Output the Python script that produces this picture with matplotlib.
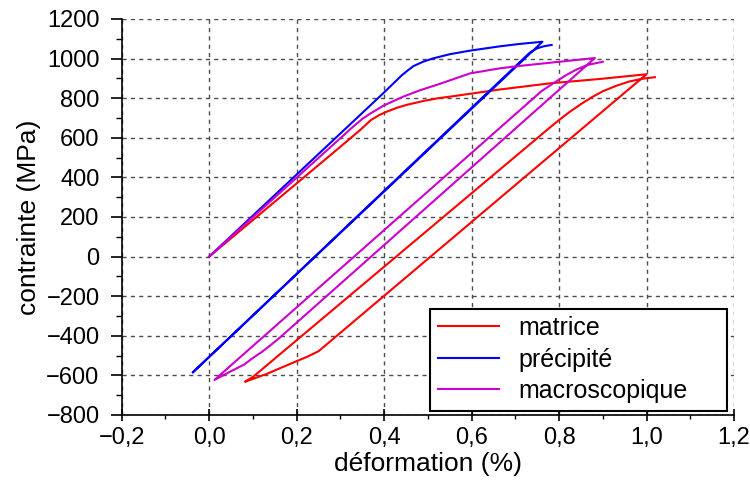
import numpy as np
import matplotlib.pyplot as plt
from matplotlib.ticker import MultipleLocator, FuncFormatter

plt.rcParams['font.family'] = ['Liberation Sans', 'DejaVu Sans']
plt.rcParams['font.size'] = 17

# ================= DATA =================

# matrice : loading -> unloading -> reloading
matrice_strain = [0.0, 0.291, 0.345, 0.37, 0.39, 0.406, 0.43, 0.451, 0.49, 0.524, 0.558,
                  0.665, 0.779, 0.893, 1.0,
                  0.25, 0.225, 0.2, 0.131, 0.082,
                  0.101, 0.772, 0.80, 0.825, 0.85, 0.875, 0.90, 0.93, 0.96, 0.99, 1.019]
matrice_stress = [0, 538, 639, 690, 716, 732, 752, 766, 786, 800, 810,
                  844, 875, 897, 921,
                  -478, -505, -528, -593, -632,
                  -606, 639, 690, 732, 770, 805, 835, 862, 884, 898, 906]

# précipité
precip_strain = [0.0, 0.398, 0.44, 0.455, 0.467, 0.49, 0.512, 0.55, 0.596, 0.665, 0.71, 0.762,
                 -0.038,
                 0.733, 0.75, 0.765, 0.783]
precip_stress = [0, 825, 915, 942, 962, 985, 1001, 1022, 1040, 1062, 1074, 1085,
                 -586,
                 1030, 1052, 1062, 1069]

# macroscopique
macro_strain = [0.0, 0.329, 0.35, 0.368, 0.40, 0.444, 0.482, 0.524, 0.596, 0.665, 0.71, 0.779, 0.882,
                0.16, 0.14, 0.12, 0.10, 0.08, 0.048, 0.012,
                0.76, 0.79, 0.815, 0.84, 0.865, 0.9]
macro_stress = [0, 656, 695, 722, 764, 808, 840, 870, 925, 951, 963, 979, 1003,
                -412, -448, -482, -512, -545, -581, -623,
                836, 880, 915, 945, 968, 984]

labels = ["matrice", "précipité", "macroscopique"]
colors = ["#ff0000", "#0000ff", "#cc00cc"]

# ================= PLOT =================

fig = plt.figure(figsize=(7.5, 4.83), dpi=100)
ax = fig.add_axes([0.1623, 0.1408, 0.8164, 0.8199])

ax.plot(matrice_strain, matrice_stress, color=colors[0], lw=1.5, label=labels[0])
ax.plot(precip_strain, precip_stress, color=colors[1], lw=1.5, label=labels[1])
ax.plot(macro_strain, macro_stress, color=colors[2], lw=1.5, label=labels[2])

ax.set_xlim(-0.2, 1.2)
ax.set_ylim(-800, 1200)
ax.xaxis.set_major_locator(MultipleLocator(0.2))
ax.xaxis.set_minor_locator(MultipleLocator(0.1))
ax.yaxis.set_major_locator(MultipleLocator(200))
ax.yaxis.set_minor_locator(MultipleLocator(100))

ax.xaxis.set_major_formatter(FuncFormatter(lambda v, p: f"{v:.1f}".replace(".", ",").replace("-", "\u2212")))
ax.yaxis.set_major_formatter(FuncFormatter(lambda v, p: f"{v:.0f}".replace("-", "\u2212")))

for s in ["top", "right"]:
    ax.spines[s].set_visible(False)
for s in ["left", "bottom"]:
    ax.spines[s].set_linewidth(1.2)

ax.tick_params(axis="y", which="major", direction="out", length=8, width=1.2, pad=8)
ax.tick_params(axis="y", which="minor", direction="out", length=4, width=1.0)
ax.tick_params(axis="x", which="major", direction="inout", length=8, width=1.2, pad=5)
ax.tick_params(axis="x", which="minor", direction="out", length=3, width=1.0)

ax.grid(True, which="major", color="0.3", linestyle=(0, (3, 3)), linewidth=1.0)
ax.set_axisbelow(True)

ax.set_xlabel("déformation (%)", fontsize=19, labelpad=2)
ax.set_ylabel("contrainte (MPa)", fontsize=19, labelpad=4)

leg = ax.legend(loc="lower left", bbox_to_anchor=(0.5035, 0.011, 0.4851, 0.2584),
                mode="expand", handlelength=2.45, handletextpad=0.8,
                borderpad=0.3, labelspacing=0.3, fancybox=False, framealpha=1,
                borderaxespad=0, fontsize=18)
leg.get_frame().set_edgecolor("black")
leg.get_frame().set_linewidth(1.5)

fig.savefig("out.png", dpi=100)
